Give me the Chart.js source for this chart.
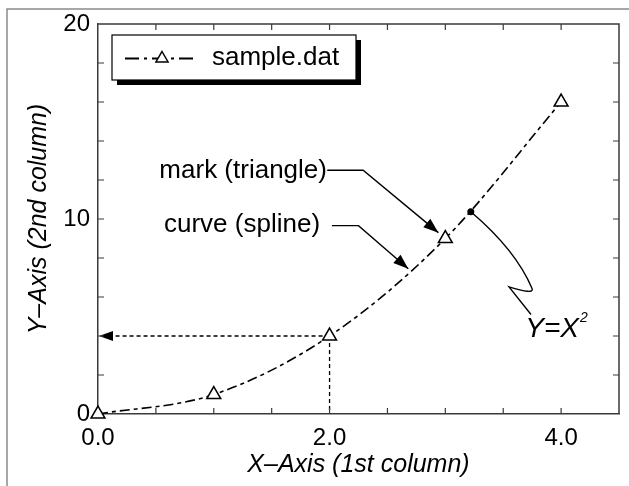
<!DOCTYPE html>
<html><head><meta charset="utf-8">
<script src="https://cdn.jsdelivr.net/npm/chart.js@4.4.1/dist/chart.umd.min.js"></script>
<style>html,body{margin:0;padding:0;background:#fff}canvas{display:block}</style>
</head><body>
<canvas id="c" width="629" height="486"></canvas>
<script>
// ---- data ----
const xValues = [0, 1, 2, 3, 4];
const yValues = [0, 1, 4, 9, 16];
const seriesName = 'sample.dat';
const xTickLabels = [0, 2, 4];
const yTickLabels = [0, 10, 20];
const xTitle = 'X\u2013Axis (1st column)';
const yTitle = 'Y\u2013Axis (2nd column)';
const markLabel = 'mark (triangle)';
const curveLabel = 'curve (spline)';
const formulaLabel = 'Y=X';
const formulaExp = '2';
// annotation anchors, in data units
const guidePoint = [2, 4];
const markText = [0.53, 12.45];
const markLeader = [[1.98, 12.5], [2.29, 12.5], [2.94, 9.3]];
const curveText = [0.57, 9.7];
const curveLeader = [[2.02, 9.66], [2.25, 9.66], [2.68, 7.45]];
const dotX = 3.22;
const formulaLeader = [[3.61, 8.4], [3.75, 6.42], [3.55, 6.52], [3.74, 5.1]];
const formulaText = [3.69, 3.95];

const SANS = "'Liberation Sans', Arial, Helvetica, sans-serif";
const tickFont = { family: SANS, size: 24 };
const titleFont = { family: SANS, size: 25, style: 'italic' };
const AX = '#3a3a3a';

function arrowHead(ctx, x0, y0, x1, y1, len, half) {
  const a = Math.atan2(y1 - y0, x1 - x0);
  ctx.beginPath();
  ctx.moveTo(x1, y1);
  ctx.lineTo(x1 - len * Math.cos(a) + half * Math.sin(a), y1 - len * Math.sin(a) - half * Math.cos(a));
  ctx.lineTo(x1 - len * Math.cos(a) - half * Math.sin(a), y1 - len * Math.sin(a) + half * Math.cos(a));
  ctx.closePath();
  ctx.fill();
}

function triangleMark(ctx, cx, cy, r) {
  const h = r * 1.5, w = r * 1.732;
  ctx.beginPath();
  ctx.moveTo(cx, cy - r);
  ctx.lineTo(cx + w / 2, cy - r + h);
  ctx.lineTo(cx - w / 2, cy - r + h);
  ctx.closePath();
  ctx.fillStyle = '#fff'; ctx.fill();
  ctx.strokeStyle = '#000'; ctx.lineWidth = 1.5; ctx.setLineDash([]); ctx.stroke();
}

const decor = {
  id: 'decor',
  beforeDraw(chart) {
    const ctx = chart.ctx;
    ctx.save();
    ctx.fillStyle = '#fff';
    ctx.fillRect(0, 0, chart.width, chart.height);
    ctx.strokeStyle = '#8a8a8a';
    ctx.lineWidth = 1.5;
    ctx.beginPath();
    ctx.moveTo(7, chart.height);
    ctx.lineTo(7, 9);
    ctx.lineTo(chart.width, 9);
    ctx.stroke();
    ctx.restore();
  },
  beforeDatasetsDraw(chart) {
    const ctx = chart.ctx, xs = chart.scales.x, ys = chart.scales.y;
    const px = xs.getPixelForValue(guidePoint[0]), py = ys.getPixelForValue(guidePoint[1]);
    ctx.save();
    ctx.strokeStyle = '#000'; ctx.fillStyle = '#000'; ctx.lineWidth = 1.3;
    ctx.setLineDash([4, 3]);
    ctx.beginPath();
    ctx.moveTo(px, py); ctx.lineTo(xs.getPixelForValue(0) + 12, py);
    ctx.moveTo(px, py); ctx.lineTo(px, ys.getPixelForValue(0));
    ctx.stroke();
    ctx.setLineDash([]);
    arrowHead(ctx, px, py, xs.getPixelForValue(0) + 1, py, 14, 5);
    ctx.restore();
  },
  afterDatasetsDraw(chart) {
    const ctx = chart.ctx, xs = chart.scales.x, ys = chart.scales.y;
    const a = chart.chartArea;
    const X = v => xs.getPixelForValue(v), Y = v => ys.getPixelForValue(v);
    ctx.save();
    // frame top/right
    ctx.strokeStyle = AX; ctx.lineWidth = 1.5; ctx.setLineDash([]);
    ctx.beginPath();
    ctx.moveTo(a.left, a.top); ctx.lineTo(a.right, a.top); ctx.lineTo(a.right, a.bottom);
    ctx.stroke();
    // inward ticks
    ctx.lineWidth = 1.2;
    ctx.beginPath();
    xs.ticks.forEach(t => {
      if (t.value <= xs.min || t.value >= xs.max) return;
      const p = X(t.value);
      ctx.moveTo(p, a.bottom); ctx.lineTo(p, a.bottom - 6);
      ctx.moveTo(p, a.top); ctx.lineTo(p, a.top + 6);
    });
    ys.ticks.forEach(t => {
      if (t.value <= ys.min || t.value >= ys.max) return;
      const p = Y(t.value);
      ctx.moveTo(a.left, p); ctx.lineTo(a.left + 6, p);
      ctx.moveTo(a.right, p); ctx.lineTo(a.right - 6, p);
    });
    ctx.stroke();

    // legend box with shadow
    const lx = a.left + 14, ly = a.top + 11, lw = 244, lh = 45;
    ctx.fillStyle = '#000';
    ctx.fillRect(lx + 5, ly + 5, lw, lh);
    ctx.fillStyle = '#fff';
    ctx.fillRect(lx, ly, lw, lh);
    ctx.strokeStyle = '#000'; ctx.lineWidth = 1.2;
    ctx.strokeRect(lx, ly, lw, lh);
    const cy = ly + lh / 2 + 1;
    ctx.lineWidth = 1.8;
    ctx.setLineDash([14, 5, 3, 5]);
    ctx.beginPath(); ctx.moveTo(lx + 13, cy); ctx.lineTo(lx + 83, cy); ctx.stroke();
    ctx.setLineDash([]);
    triangleMark(ctx, lx + 50, cy, 7);
    ctx.fillStyle = '#000';
    ctx.font = '26px ' + SANS;
    ctx.textAlign = 'left'; ctx.textBaseline = 'middle';
    ctx.fillText(seriesName, lx + 100, ly + lh / 2);

    // annotation texts
    ctx.fillText(markLabel, X(markText[0]), Y(markText[1]));
    ctx.fillText(curveLabel, X(curveText[0]), Y(curveText[1]));

    // leaders with arrows
    ctx.strokeStyle = '#000'; ctx.fillStyle = '#000'; ctx.lineWidth = 1.4;
    [markLeader, curveLeader].forEach(L => {
      ctx.beginPath();
      ctx.moveTo(X(L[0][0]), Y(L[0][1]));
      ctx.lineTo(X(L[1][0]), Y(L[1][1]));
      ctx.lineTo(X(L[2][0]), Y(L[2][1]));
      ctx.stroke();
      arrowHead(ctx, X(L[1][0]), Y(L[1][1]), X(L[2][0]), Y(L[2][1]), 15, 5.5);
    });

    // formula leader
    const dx = X(dotX), dy = Y(dotX * dotX);
    ctx.beginPath(); ctx.arc(dx, dy, 3.5, 0, Math.PI * 2); ctx.fill();
    const F = formulaLeader;
    ctx.lineWidth = 1.4;
    ctx.beginPath();
    ctx.moveTo(dx, dy);
    ctx.quadraticCurveTo(X(F[0][0]), Y(F[0][1]), X(F[1][0]), Y(F[1][1]));
    ctx.quadraticCurveTo(X(F[1][0]) + 2, Y(F[1][1]) + 6, X(F[2][0]), Y(F[2][1]));
    ctx.lineTo(X(F[3][0]), Y(F[3][1]));
    ctx.stroke();
    ctx.font = 'italic 28px ' + SANS;
    ctx.textBaseline = 'alphabetic';
    const fx = X(formulaText[0]), fy = Y(formulaText[1]);
    ctx.fillText(formulaLabel, fx, fy);
    const w = ctx.measureText(formulaLabel).width;
    ctx.font = 'italic 14px ' + SANS;
    ctx.fillText(formulaExp, fx + w + 1, fy - 15);
    ctx.restore();
  }
};

new Chart(document.getElementById('c'), {
  type: 'line',
  data: {
    datasets: [{
      label: seriesName,
      data: xValues.map((x, i) => ({ x: x, y: yValues[i] })),
      borderColor: '#000',
      borderWidth: 1.6,
      borderDash: [10, 4, 4, 4],
      cubicInterpolationMode: 'monotone',
      pointStyle: 'triangle',
      pointRadius: 8,
      pointBackgroundColor: '#fff',
      pointBorderColor: '#000',
      pointBorderWidth: 1.5,
      clip: false,
      fill: false
    }]
  },
  options: {
    responsive: false,
    animation: false,
    devicePixelRatio: 1,
    layout: { padding: { top: 24, right: 5, left: 0, bottom: 0 } },
    plugins: { legend: { display: false }, tooltip: { enabled: false } },
    scales: {
      x: {
        type: 'linear', min: 0, max: 4.5, position: 'bottom',
        afterFit: s => { s.height = 72; },
        grid: { display: false, drawTicks: false },
        border: { display: true, color: AX, width: 1.5 },
        ticks: {
          stepSize: 0.5, autoSkip: false, maxRotation: 0, padding: 10, color: '#000', font: tickFont,
          callback: v => xTickLabels.includes(v) ? v.toFixed(1) : ''
        },
        title: { display: true, text: xTitle, color: '#000', font: titleFont, padding: { top: 0, bottom: 6 } }
      },
      y: {
        type: 'linear', min: 0, max: 20, position: 'left',
        afterFit: s => { s.width = 98; },
        grid: { display: false, drawTicks: false },
        border: { display: true, color: AX, width: 1.5 },
        ticks: {
          stepSize: 2, autoSkip: false, padding: 8, color: '#000', font: tickFont,
          callback: v => yTickLabels.includes(v) ? String(v) : ''
        },
        title: { display: true, text: yTitle, color: '#000', font: titleFont, padding: { top: 24, bottom: 0 } }
      }
    }
  },
  plugins: [decor]
});
</script>
</body></html>
